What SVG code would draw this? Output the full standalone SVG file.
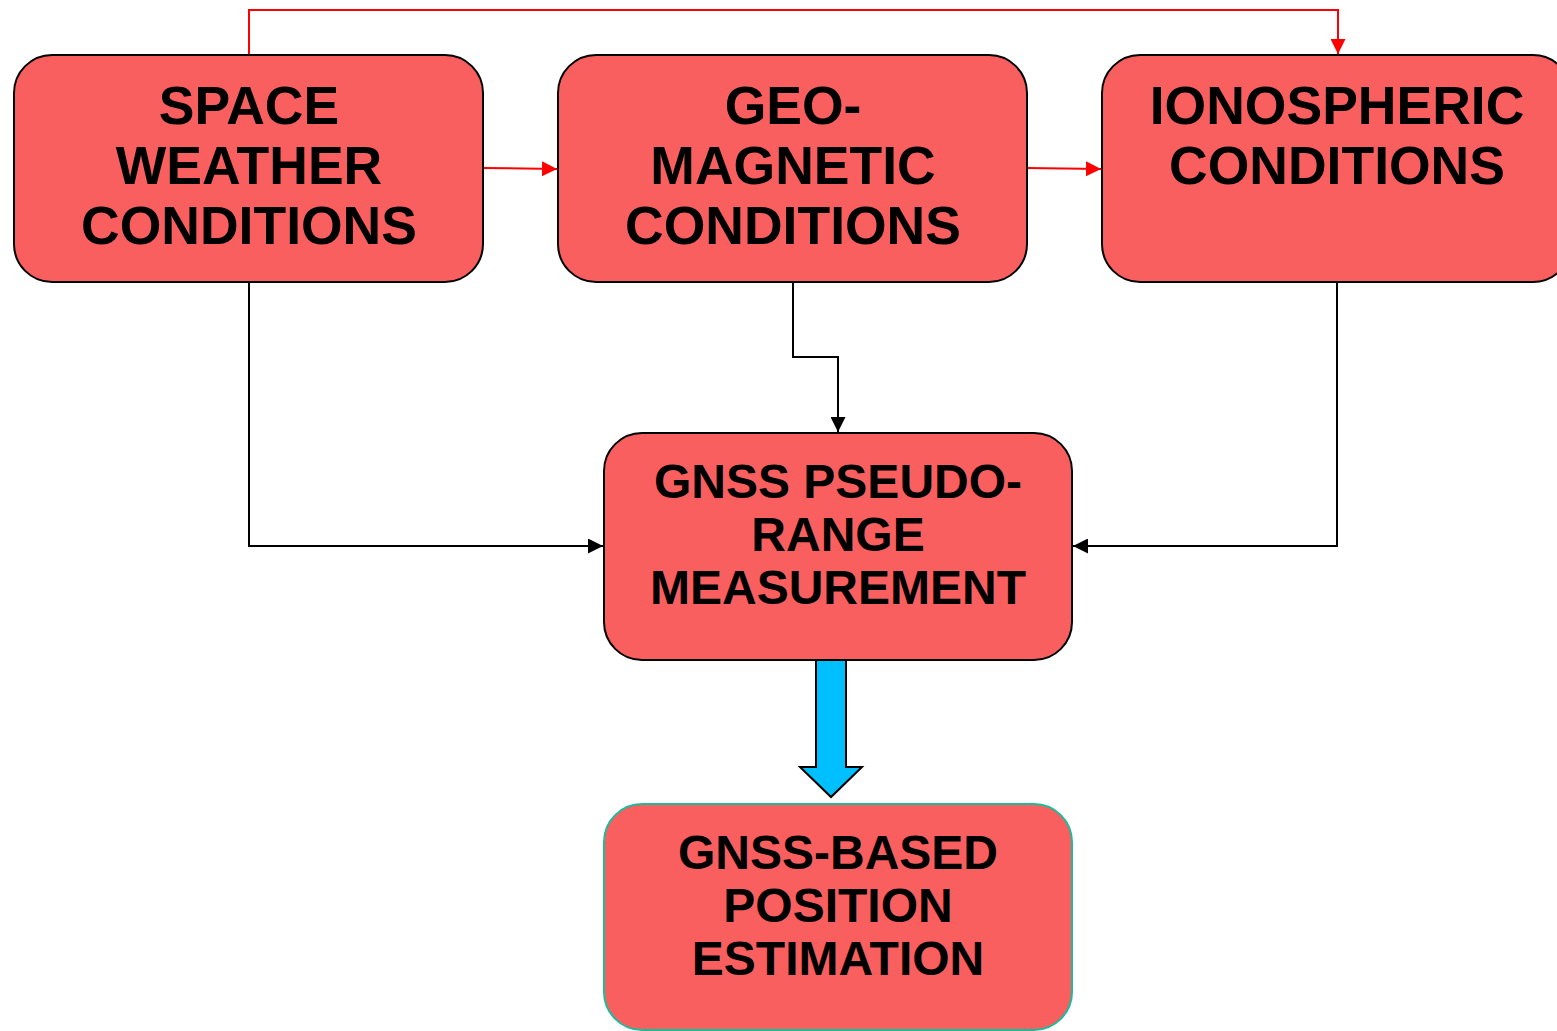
<svg xmlns="http://www.w3.org/2000/svg" width="1557" height="1031" viewBox="0 0 1557 1031">
<defs>
<style>
.box{fill:#FA5F5F;stroke:#000;stroke-width:2}
.box2{fill:#FA5F5F;stroke:#1ABC9C;stroke-width:2}
.t{font-family:"Liberation Sans",Arial,sans-serif;font-weight:bold;fill:#000;text-anchor:middle}
.t1{font-size:53.5px}
.t2{font-size:48px}
.red{fill:none;stroke:#F00;stroke-width:2}
.blk{fill:none;stroke:#000;stroke-width:2}
</style>
<marker id="ar" viewBox="0 0 10 10" refX="10" refY="5" markerWidth="7.5" markerHeight="7.5" markerUnits="strokeWidth" orient="auto">
<path d="M0,0 L10,5 L0,10 z" fill="#F00"/>
</marker>
<marker id="ab" viewBox="0 0 10 10" refX="10" refY="5" markerWidth="7.5" markerHeight="7.5" markerUnits="strokeWidth" orient="auto">
<path d="M0,0 L10,5 L0,10 z" fill="#000"/>
</marker>
</defs>
<rect width="1557" height="1031" fill="#fff"/>
<g id="connectors">
<polyline class="red" points="249,55 249,10 1338,10 1338,54" marker-end="url(#ar)"/>
<line class="red" x1="483" y1="168" x2="557" y2="169" marker-end="url(#ar)"/>
<line class="red" x1="1027" y1="168" x2="1101" y2="169" marker-end="url(#ar)"/>
<polyline class="blk" points="249,282 249,546 603,546" marker-end="url(#ab)"/>
<polyline class="blk" points="793,282 793,357 838,357 838,432" marker-end="url(#ab)"/>
<polyline class="blk" points="1337,282 1337,546 1073,546" marker-end="url(#ab)"/>
<polygon points="816,660 846,660 846,767 862,767 831,797 800,767 816,767" fill="#00BFFF" stroke="#000" stroke-width="2"/>
</g>
<g id="space-weather">
<rect class="box" x="14" y="55" width="469" height="227" rx="38"/>
<text class="t t1" x="249" y="124">SPACE</text>
<text class="t t1" x="249" y="184">WEATHER</text>
<text class="t t1" x="249" y="244">CONDITIONS</text>
</g>
<g id="geo-magnetic">
<rect class="box" x="558" y="55" width="469" height="227" rx="38"/>
<text class="t t1" x="793" y="124">GEO-</text>
<text class="t t1" x="793" y="184">MAGNETIC</text>
<text class="t t1" x="793" y="244">CONDITIONS</text>
</g>
<g id="ionospheric">
<rect class="box" x="1102" y="55" width="469" height="227" rx="38"/>
<text class="t t1" x="1337" y="124">IONOSPHERIC</text>
<text class="t t1" x="1337" y="184">CONDITIONS</text>
</g>
<g id="pseudo-range">
<rect class="box" x="604" y="433" width="468" height="227" rx="38"/>
<text class="t t2" x="838" y="498">GNSS PSEUDO-</text>
<text class="t t2" x="838" y="551">RANGE</text>
<text class="t t2" x="838" y="604">MEASUREMENT</text>
</g>
<g id="position-estimation">
<rect class="box2" x="604" y="804" width="468" height="226" rx="38"/>
<text class="t t2" x="838" y="869">GNSS-BASED</text>
<text class="t t2" x="838" y="922">POSITION</text>
<text class="t t2" x="838" y="975">ESTIMATION</text>
</g>
</svg>
